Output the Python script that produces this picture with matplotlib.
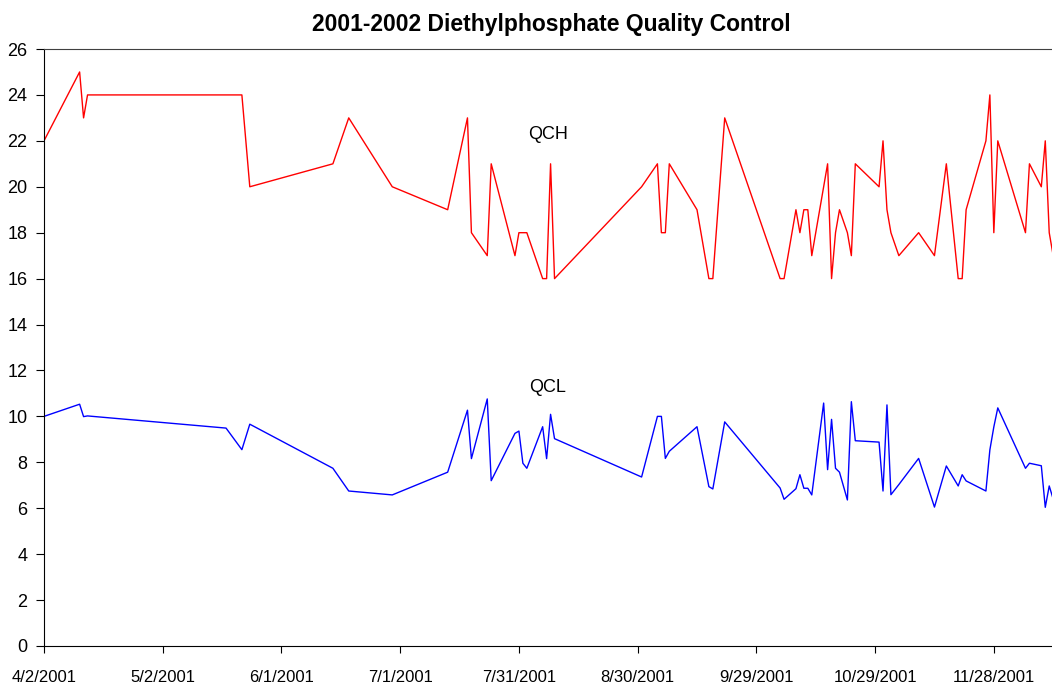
import datetime as dt
import matplotlib
matplotlib.use("Agg")
import matplotlib.pyplot as plt

plt.rcParams['font.family'] = ['Liberation Sans', 'DejaVu Sans']

# sample dates (2001) shared by both control series
dates = ["4/2", "4/11", "4/12", "4/13", "5/18", "5/22", "5/24", "6/14", "6/18", "6/29",
         "7/13", "7/18", "7/19", "7/23", "7/24", "7/30", "7/31", "8/1", "8/2", "8/6",
         "8/7", "8/8", "8/9", "8/31", "9/4", "9/5", "9/6", "9/7", "9/14", "9/17",
         "9/18", "9/21", "10/5", "10/6", "10/9", "10/10", "10/11", "10/12", "10/13", "10/16",
         "10/17", "10/18", "10/19", "10/20", "10/22", "10/23", "10/24", "10/30", "10/31", "11/1",
         "11/2", "11/4", "11/9", "11/13", "11/16", "11/19", "11/20", "11/21", "11/26", "11/27",
         "11/28", "11/29", "12/6", "12/7", "12/10", "12/11", "12/12", "12/13"]

qch = [22, 25, 23, 24, 24, 24, 20, 21, 23, 20,
       19, 23, 18, 17, 21, 17, 18, 18, 18, 16,
       16, 21, 16, 20, 21, 18, 18, 21, 19, 16,
       16, 23, 16, 16, 19, 18, 19, 19, 17, 20,
       21, 16, 18, 19, 18, 17, 21, 20, 22, 19,
       18, 17, 18, 17, 21, 16, 16, 19, 22, 24,
       18, 22, 18, 21, 20, 22, 18, 17]

qcl = [10.0, 10.53, 9.99, 10.02, 9.49, 8.55, 9.66, 7.74, 6.75, 6.58,
       7.57, 10.27, 8.16, 10.76, 7.2, 9.26, 9.36, 7.96, 7.74, 9.55,
       8.16, 10.09, 9.03, 7.36, 10.0, 10.0, 8.17, 8.48, 9.55, 6.94,
       6.84, 9.76, 6.88, 6.39, 6.85, 7.46, 6.87, 6.87, 6.58, 10.58,
       7.68, 9.87, 7.74, 7.57, 6.36, 10.64, 8.94, 8.88, 6.75, 10.5,
       6.59, 7.03, 8.17, 6.05, 7.84, 6.97, 7.46, 7.19, 6.75, 8.54,
       9.54, 10.37, 7.74, 7.96, 7.85, 6.04, 6.97, 6.4]

x = [dt.datetime.strptime(d + "/2001", "%m/%d/%Y") for d in dates]
start = dt.datetime(2001, 4, 2)

fig = plt.figure(figsize=(10.52, 6.85), dpi=100)
ax = fig.add_axes([44 / 1052, 1 - 646 / 685, 1 - 44 / 1052, (646 - 49) / 685])

ax.plot(x, qch, color='#ff0000', lw=1.0)
ax.plot(x, qcl, color='#0000ff', lw=1.0)

ax.text(start + dt.timedelta(days=127.3), 22.26, "QCH", fontsize=13, ha='center', va='center')
ax.text(start + dt.timedelta(days=127.3), 11.24, "QCL", fontsize=13, ha='center', va='center')

ax.set_ylim(0, 26)
ax.set_yticks(range(0, 27, 2))
ax.set_xlim(start, start + dt.timedelta(days=254.7))
ticks = [start + dt.timedelta(days=30 * k) for k in range(9)]
ax.set_xticks(ticks)
ax.set_xticklabels([f"{t.month}/{t.day}/{t.year}" for t in ticks])

ax.spines['right'].set_visible(False)
ax.spines['top'].set_color('#404040')
ax.tick_params(axis='x', direction='out', length=5, pad=12, labelsize=12)
ax.tick_params(axis='y', direction='out', length=6, pad=6, labelsize=13)

fig.text(551 / 1052, 1 - 24 / 685, "2001-2002 Diethylphosphate Quality Control",
         fontsize=16.5, fontweight='bold', ha='center', va='center')

fig.savefig("out.png", dpi=100)
